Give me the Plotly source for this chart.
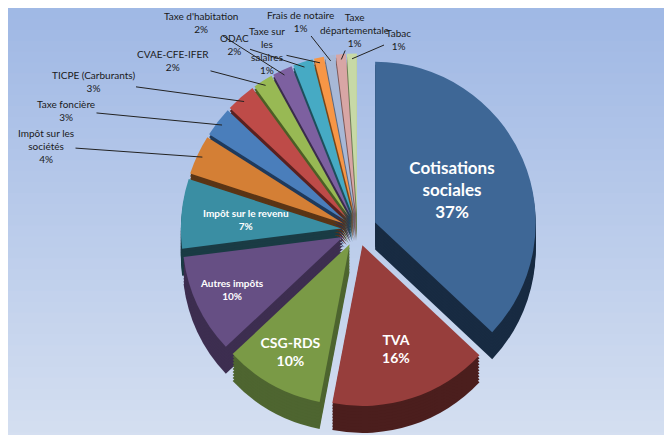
import math
import plotly.graph_objects as go

labels = ['Cotisations sociales', 'TVA', 'CSG-RDS', 'Autres impôts', 'Impôt sur le revenu',
          'Impôt sur les sociétés', 'Taxe foncière', 'TICPE (Carburants)', 'CVAE-CFE-IFER',
          "Taxe d'habitation", 'ODAC', 'Taxe sur les salaires', 'Frais de notaire',
          'Taxe départementale', 'Tabac']
text_labels = ['Cotisations<br>sociales', 'TVA', 'CSG-RDS', 'Autres impôts', 'Impôt sur le revenu',
               'Impôt sur les<br>sociétés', 'Taxe foncière', 'TICPE (Carburants)', 'CVAE-CFE-IFER',
               "Taxe d'habitation", 'ODAC', 'Taxe sur<br>les<br>salaires', 'Frais de notaire',
               'Taxe<br>départementale', 'Tabac']
values = [37, 16, 10, 10, 7, 4, 3, 3, 2, 2, 2, 1, 1, 1, 1]

top_colors = ['#3E6796', '#973E3C', '#7A9A46', '#664F84', '#3A8EA3',
              '#D47F35', '#4A7EBB', '#BE4B48', '#98B954', '#7D60A0',
              '#46AAC4', '#F79646', '#A7B8D6', '#D8A6A5', '#C7D9A6']
side_colors = ['#182B42', '#4B1E1D', '#4E6530', '#3D2E50', '#1A3B44',
               '#5A3415', '#1F3A5C', '#5A2120', '#4C5F26', '#3A2C4C',
               '#1E4F5C', '#7A4718', '#5C6A82', '#7E5A59', '#6E7E56']
pulls = [0.12] + [0.1] * 14
n_inside = 4          # labels drawn by the pie itself
ir_index = 4          # "Impôt sur le revenu": white label placed on its slice
sizes = [17, 14, 14, 10]

# label anchor (pixels) for the small slices, outside the pie
label_px = [(38, 138), (58, 102), (85, 73), (165, 53), (193, 14),
            (226, 36), (259, 43), (292, 14), (346, 22), (390, 31)]

W, H = 672, 435
layers = 9
step = 3 / H
dom_x = [0.04, 1.0]
dom_y = [0.076, 0.903]

fig = go.Figure()

# sides of the slices: darker copies shifted down
for k in range(layers, 0, -1):
    fig.add_trace(go.Pie(
        labels=labels, values=values, sort=False, direction='clockwise', rotation=0,
        pull=pulls, textinfo='none',
        marker=dict(colors=side_colors, line=dict(width=0)),
        domain=dict(x=dom_x, y=[dom_y[0] - k * step, dom_y[1] - k * step]),
        showlegend=False, hoverinfo='skip'))

fig.add_trace(go.Pie(
    labels=labels, values=values, sort=False, direction='clockwise', rotation=0,
    pull=pulls, text=text_labels, texttemplate='%{text}<br>%{percent:.0%}',
    textposition=['inside'] * n_inside + ['none'] * (len(values) - n_inside),
    insidetextorientation='horizontal',
    insidetextfont=dict(size=sizes + [10] * (len(values) - n_inside), color='white',
                        family='Lato', weight='bold'),
    marker=dict(colors=top_colors, line=dict(width=0)),
    domain=dict(x=dom_x, y=dom_y),
    showlegend=False))

# pie geometry (same rule plotly uses) to attach the labels
cx = W * (dom_x[0] + dom_x[1]) / 2
cy = H * (1 - (dom_y[0] + dom_y[1]) / 2)
r = min(W * (dom_x[1] - dom_x[0]), H * (dom_y[1] - dom_y[0])) / 2 / (1 + max(pulls))
total = sum(values)
cum = 0
annotations = []
for i, v in enumerate(values):
    mid = (cum + v / 2) / total * 2 * math.pi
    cum += v
    pct = '%d%%' % round(100 * v / total)
    if i == ir_index:
        tr = r * (pulls[i] + 0.6)
        annotations.append(dict(
            x=(cx + tr * math.sin(mid)) / W, y=1 - (cy - tr * math.cos(mid)) / H,
            xref='paper', yref='paper', showarrow=False,
            text='%s<br>%s' % (text_labels[i], pct),
            font=dict(size=10, color='white', family='Lato', weight='bold')))
        continue
    if i < n_inside:
        continue
    tr = r * (1 + pulls[i]) * 0.97
    tx = cx + tr * math.sin(mid)
    ty = cy - tr * math.cos(mid)
    lx, ly = label_px[i - n_inside - 1]
    annotations.append(dict(
        x=tx / W, y=1 - ty / H, xref='paper', yref='paper',
        ax=lx - tx, ay=ly - ty, showarrow=True, arrowhead=0, arrowwidth=1,
        arrowcolor='#222222', standoff=0, startstandoff=0,
        text='%s<br>%s' % (text_labels[i], pct),
        font=dict(size=10, color='#1a1a1a', family='Lato'), align='center'))

# background gradient
bands = 40
c0 = (160, 185, 229)
c1 = (213, 223, 241)
shapes = []
for i in range(bands):
    t = i / (bands - 1)
    c = tuple(int(c0[j] + (c1[j] - c0[j]) * t) for j in range(3))
    shapes.append(dict(type='rect', xref='paper', yref='paper', x0=0, x1=1,
                       y1=1 - i / bands, y0=1 - (i + 1) / bands - 0.002,
                       fillcolor='rgb(%d,%d,%d)' % c, line=dict(width=0), layer='below'))

fig.update_layout(
    width=W, height=H,
    margin=dict(l=0, r=0, t=0, b=0),
    paper_bgcolor='rgb(186,204,235)',
    shapes=shapes,
    annotations=annotations,
    font=dict(family='Lato'))

fig.write_html('out.html')
